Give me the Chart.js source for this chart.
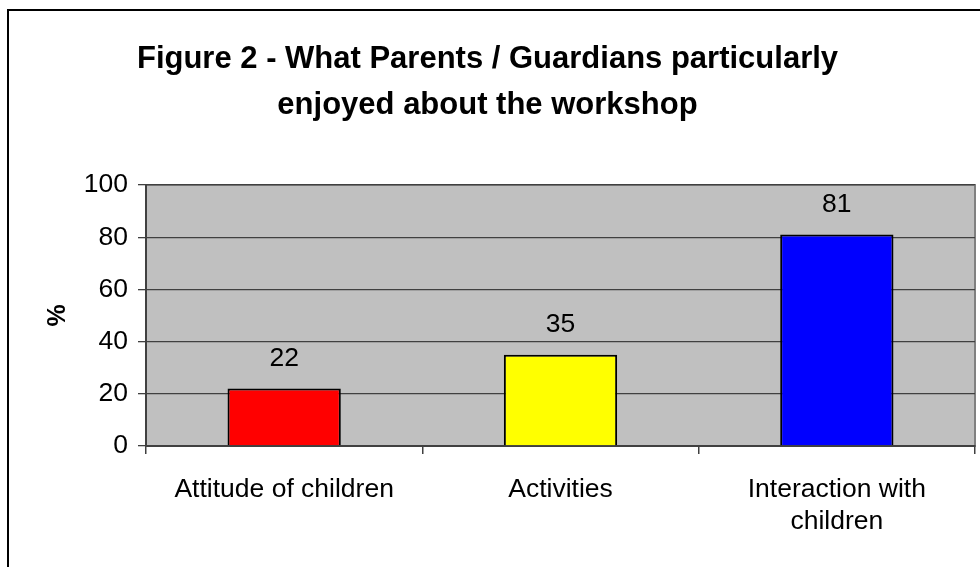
<!DOCTYPE html>
<html>
<head>
<meta charset="utf-8">
<script src="https://cdn.jsdelivr.net/npm/chart.js@4"></script>
<style>
html,body{margin:0;padding:0;background:#fff;}
#wrap{position:relative;width:980px;height:567px;overflow:hidden;}
canvas{display:block;}
</style>
</head>
<body>
<div id="wrap"><canvas id="c" width="980" height="567"></canvas></div>
<script>
const categories = [["Attitude of children"], ["Activities"], ["Interaction with", "children"]];
const values = [22, 35, 81];
const barColors = ["#FF0000", "#FFFF00", "#0000FF"];
const yTicks = [0, 20, 40, 60, 80, 100];
const titleLines = ["Figure 2 - What Parents / Guardians particularly", "enjoyed about the workshop"];
const yTitle = "%";

const FONT = "'Liberation Sans', Arial, sans-serif";
const LBL = 26.5;

const bgPlugin = {
  id: 'bg',
  beforeDraw(chart) {
    const ctx = chart.ctx;
    ctx.save();
    ctx.fillStyle = '#fff';
    ctx.fillRect(0, 0, chart.width, chart.height);
    ctx.fillStyle = '#000';
    ctx.fillRect(7, 9, chart.width, 2);
    ctx.fillRect(7, 9, 2, chart.height);
    const a = chart.chartArea;
    ctx.fillStyle = '#C0C0C0';
    ctx.fillRect(a.left, a.top, a.right - a.left, a.bottom - a.top);
    ctx.strokeStyle = '#808080';
    ctx.lineWidth = 2;
    ctx.strokeRect(a.left, a.top, a.right - a.left, a.bottom - a.top);
    ctx.restore();
  }
};

const labelPlugin = {
  id: 'valLabels',
  afterDatasetsDraw(chart) {
    const ctx = chart.ctx;
    const meta = chart.getDatasetMeta(0);
    ctx.save();
    ctx.font = LBL + "px " + FONT;
    ctx.fillStyle = '#000';
    ctx.textAlign = 'center';
    ctx.textBaseline = 'middle';
    meta.data.forEach((bar, i) => {
      ctx.fillText(String(values[i]), bar.x, bar.y - 30);
    });
    ctx.restore();
  }
};

new Chart(document.getElementById('c'), {
  type: 'bar',
  data: {
    labels: categories,
    datasets: [{
      data: values,
      backgroundColor: barColors,
      borderColor: '#000',
      borderWidth: 2,
      categoryPercentage: 1,
      barPercentage: 0.41
    }]
  },
  options: {
    responsive: false,
    animation: false,
    layout: { padding: { left: 0, right: 5, top: 0, bottom: 0 } },
    plugins: {
      legend: { display: false },
      tooltip: { enabled: false },
      title: {
        display: true,
        text: titleLines,
        color: '#000',
        font: { family: FONT, size: 31, weight: 'bold', lineHeight: 46 / 31 },
        padding: { top: 36, bottom: 57 }
      }
    },
    scales: {
      x: {
        offset: true,
        grid: { display: true, drawOnChartArea: false, drawTicks: true, tickLength: 8, color: '#404040', lineWidth: 1.5, offset: true },
        border: { display: true, color: '#404040', width: 2 },
        ticks: { color: '#000', font: { family: FONT, size: LBL, lineHeight: 32 / LBL }, padding: 20, maxRotation: 0, autoSkip: false },
        afterFit(s) { s.height = 121; }
      },
      y: {
        min: 0, max: 100,
        afterBuildTicks(s) { s.ticks = yTicks.map(v => ({ value: v })); },
        grid: { color: '#404040', lineWidth: 1.3, tickLength: 8 },
        border: { display: true, color: '#404040', width: 2 },
        ticks: { color: '#000', font: { family: FONT, size: LBL }, padding: 10 },
        title: { display: true, text: yTitle, color: '#000', font: { family: FONT, size: 25, weight: 'bold' }, padding: { top: 43, bottom: 0 } },
        afterFit(s) { s.width = 146; }
      }
    }
  },
  plugins: [bgPlugin, labelPlugin]
});
</script>
</body>
</html>
